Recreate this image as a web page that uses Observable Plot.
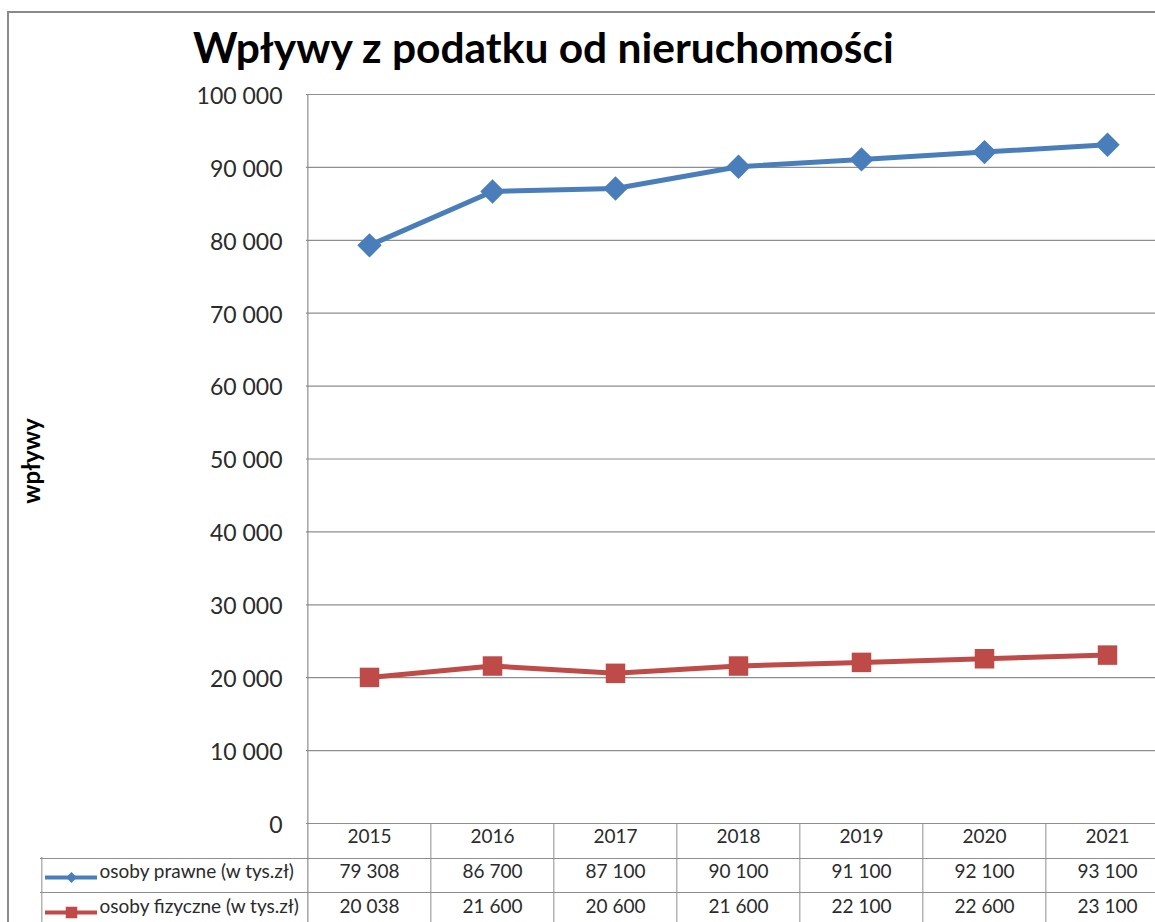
<!DOCTYPE html>
<html><head><meta charset="utf-8">
<script src="https://cdn.jsdelivr.net/npm/d3@7"></script>
<script src="https://cdn.jsdelivr.net/npm/@observablehq/plot@0.6"></script>
<style>
body{margin:0;background:#fff;}
#wrap{position:relative;width:1155px;height:922px;overflow:hidden;background:#fff;}
#border{position:absolute;left:7px;top:11px;width:1200px;height:1000px;border:2px solid #8a8a8a;box-sizing:border-box;}
#title{position:absolute;left:193px;top:24px;font:bold 42.5px Lato;color:#000;white-space:nowrap;line-height:1.1;}
#chart{position:absolute;left:0;top:0;}
</style></head><body>
<div id="wrap"><div id="border"></div><div id="title">Wpływy z podatku od nieruchomości</div><div id="chart"></div></div>
<script>
const years = ["2015", "2016", "2017", "2018", "2019", "2020", "2021"];
const prawne = [79308, 86700, 87100, 90100, 91100, 92100, 93100];
const fizyczne = [20038, 21600, 20600, 21600, 22100, 22600, 23100];
const seriesNames = ["osoby prawne (w tys.zł)", "osoby fizyczne (w tys.zł)"];
const yTicks = [0, 10000, 20000, 30000, 40000, 50000, 60000, 70000, 80000, 90000, 100000];
const yLabel = "wpływy";

const colors = ["#4a7ebb", "#be4b48"];
const fmt = d3.formatLocale({thousands: " ", grouping: [3], decimal: ","}).format(",");
const rowsP = years.map((y, i) => ({year: y, value: prawne[i]}));
const rowsF = years.map((y, i) => ({year: y, value: fizyczne[i]}));

const left = 306, right = 1169, W = 1155, H = 922;
const step = (right - left) / years.length;
const grid = "#8e8e8e";
const font = "Lato, 'Open Sans', sans-serif";
const txt = "#2b2b2b";

const chart = Plot.plot({
  width: W, height: H,
  marginLeft: left, marginRight: 0, marginTop: 94, marginBottom: 99,
  style: {fontFamily: font, background: "transparent", overflow: "visible"},
  x: {type: "point", domain: years, range: [left, right], padding: 0.5, axis: null},
  y: {domain: [0, 100000], axis: null},
  marks: [
    Plot.ruleY(yTicks, {stroke: grid, strokeWidth: 1.2}),
    Plot.ruleX([years[0]], {dx: -step / 2, stroke: grid, strokeWidth: 1.2, insetBottom: -99}),
    Plot.ruleX(years.slice(1), {dx: -step / 2, stroke: grid, strokeWidth: 1, insetTop: 729, insetBottom: -99}),
    Plot.ruleX([years[0]], {dx: -step / 2 - 266, stroke: grid, strokeWidth: 1, insetTop: 763, insetBottom: -99}),
    Plot.ruleY([0], {dy: 35, insetLeft: -266, stroke: grid, strokeWidth: 1}),
    Plot.ruleY([0], {dy: 69, insetLeft: -266, stroke: grid, strokeWidth: 1}),
    Plot.text(yTicks, {y: d => d, text: d => fmt(d), frameAnchor: "left", textAnchor: "end", dx: -24, dy: 2, fontSize: 23, fill: txt}),
    Plot.text([yLabel], {frameAnchor: "left", textAnchor: "middle", dx: -274, dy: 2, rotate: -90, fontWeight: "bold", fontSize: 24, fill: "#000"}),
    Plot.text(years, {x: d => d, frameAnchor: "bottom", dy: 19, fontSize: 19, fill: txt}),
    Plot.text(rowsP, {x: "year", text: d => fmt(d.value), frameAnchor: "bottom", dy: 54, fontSize: 19, fill: txt}),
    Plot.text(rowsF, {x: "year", text: d => fmt(d.value), frameAnchor: "bottom", dy: 89, fontSize: 19, fill: txt}),
    Plot.text([seriesNames[0]], {frameAnchor: "bottom-left", dx: -207, dy: 54, textAnchor: "start", fontSize: 19, fill: txt}),
    Plot.text([seriesNames[1]], {frameAnchor: "bottom-left", dx: -207, dy: 89, textAnchor: "start", fontSize: 19, fill: txt}),
    Plot.ruleY([0], {dy: 54, insetLeft: -261, insetRight: W - 97, stroke: colors[0], strokeWidth: 4}),
    Plot.ruleY([0], {dy: 89, insetLeft: -261, insetRight: W - 97, stroke: colors[1], strokeWidth: 4}),
    Plot.dot([0], {frameAnchor: "bottom-left", dx: -235, dy: 54, symbol: "diamond2", r: 5, fill: colors[0]}),
    Plot.dot([0], {frameAnchor: "bottom-left", dx: -235, dy: 89, symbol: "square", r: 6.5, fill: colors[1]}),
    Plot.line(rowsP, {x: "year", y: "value", stroke: colors[0], strokeWidth: 5}),
    Plot.line(rowsF, {x: "year", y: "value", stroke: colors[1], strokeWidth: 5}),
    Plot.dot(rowsP, {x: "year", y: "value", symbol: "diamond2", r: 11, fill: colors[0]}),
    Plot.dot(rowsF, {x: "year", y: "value", symbol: "square", r: 11, fill: colors[1]})
  ]
});
document.getElementById("chart").appendChild(chart);
</script>
</body></html>
